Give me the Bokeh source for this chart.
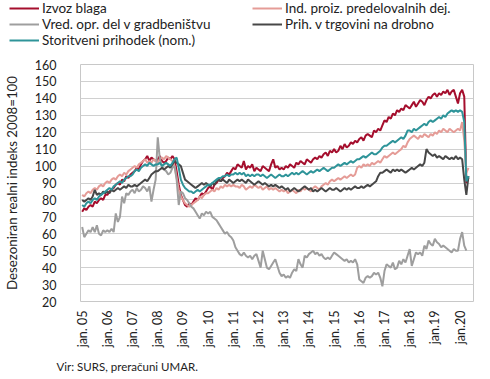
import math
from bokeh.plotting import figure
from bokeh.layouts import column
from bokeh.models import Range1d, FixedTicker, Legend, LegendItem, Label
from bokeh.embed import file_html
from bokeh.resources import INLINE

# ---------------- data (monthly, jan. 2005 - maj 2020) ----------------
izvoz_blaga = [
    73, 75, 74, 76, 77, 76, 79, 78, 80, 81, 80, 83,
    83, 85, 86, 87, 89, 90, 89, 92, 91, 94, 93, 95,
    96, 97, 99, 98, 101, 103, 104, 106, 103, 105, 104, 103,
    104, 106, 103, 102, 103, 105, 104, 106, 104, 97, 89, 83,
    80, 77, 76, 78, 77, 79, 81, 80, 82, 84, 83, 85,
    87, 88, 86, 89, 90, 92, 91, 93, 94, 96, 95, 97,
    99, 98, 101, 100, 99, 103, 98, 100, 99, 101, 97, 99,
    98, 97, 100, 99, 98, 97, 101, 104, 99, 100, 98, 99,
    98, 100, 99, 101, 100, 99, 102, 101, 103, 102, 101, 104,
    103, 102, 104, 105, 104, 106, 105, 107, 108, 106, 109, 108,
    110, 108, 109, 112, 110, 113, 111, 112, 114, 113, 115, 114,
    116, 117, 115, 118, 119, 118, 117, 121, 120, 122, 121, 124,
    127, 126, 129, 128, 131, 130, 133, 132, 134, 133, 136, 135,
    134, 136, 138, 135, 137, 139, 138, 136, 139, 141, 140, 142,
    143, 141, 143, 142, 144, 143, 145, 142, 144, 145, 141, 137,
    143, 145, 141, 90, 93,
]
ind_proiz = [
    83, 82, 84, 85, 84, 86, 87, 86, 88, 89, 88, 90,
    91, 90, 92, 93, 92, 94, 95, 94, 96, 95, 97, 98,
    99, 100, 99, 101, 102, 103, 104, 102, 103, 102, 104, 103,
    102, 104, 105, 104, 106, 105, 104, 103, 100, 93, 86, 82,
    80, 78, 77, 76, 77, 78, 79, 80, 82, 81, 83, 84,
    84, 85, 86, 85, 87, 86, 88, 87, 89, 88, 89, 88,
    89, 88, 88, 87, 89, 88, 86, 87, 88, 87, 89, 88,
    87, 88, 86, 87, 88, 86, 87, 86, 87, 86, 85, 86,
    85, 86, 84, 85, 86, 85, 84, 86, 85, 87, 86, 87,
    86, 85, 87, 88, 87, 86, 88, 89, 90, 89, 91, 92,
    91, 92, 93, 92, 93, 94, 93, 94, 95, 94, 95, 99,
    100, 99, 101, 100, 101, 100, 102, 101, 102, 103, 102, 104,
    106, 105, 106, 107, 108, 107, 108, 109, 110, 112, 111, 114,
    116, 117, 118, 117, 116, 118, 117, 119, 118, 117, 119, 118,
    120, 119, 121, 120, 122, 121, 120, 122, 121, 120, 121, 122,
    121, 126, 115, 96, 99,
]
vred_gradb = [
    64, 58, 60, 62, 61, 64, 61, 65, 60, 59, 62, 61,
    62, 61, 63, 61, 72, 67, 70, 82, 78, 84, 83, 85,
    86, 84, 87, 85, 86, 88, 87, 85, 88, 79, 86, 92,
    117, 104, 100, 98, 97, 95, 96, 99, 100, 92, 77, 85,
    84, 81, 80, 78, 76, 75, 73, 71, 69, 72, 71, 73,
    72, 73, 70, 69, 68, 66, 64, 62, 60, 61, 59, 58,
    56, 52, 50, 48, 47, 49, 47, 46, 47, 45, 47, 48,
    44, 40, 50, 45, 40, 39, 41, 43, 45, 41, 37, 35,
    36, 34, 35, 34, 37, 39, 38, 45, 42, 40, 47, 46,
    48, 49, 50, 48, 49, 47, 48, 46, 45, 46, 45, 47,
    49, 48, 47, 46, 45, 44, 45, 43, 44, 43, 45, 42,
    33, 32, 31, 34, 35, 34, 35, 37, 36, 37, 34, 29,
    38, 42, 41, 40, 43, 39, 40, 44, 42, 45, 43, 47,
    51, 41, 45, 49, 48, 49, 47, 53, 51, 56, 54, 53,
    57, 55, 54, 52, 53, 52, 51, 50, 49, 51, 50, 50,
    57, 61, 53, 50,
]
prih_trgovina = [
    80, 79, 80, 81, 80, 82, 86, 83, 84, 83, 85, 84,
    85, 84, 86, 85, 86, 87, 86, 87, 88, 87, 89, 88,
    88, 89, 88, 89, 90, 91, 92, 91, 93, 95, 96, 97,
    97, 98, 99, 98, 99, 100, 99, 101, 103, 102, 101, 100,
    96, 92, 91, 90, 89, 88, 87, 88, 89, 90, 89, 90,
    89, 88, 90, 89, 91, 92, 91, 92, 91, 90, 92, 91,
    90, 91, 92, 91, 92, 91, 90, 92, 91, 90, 89, 90,
    91, 90, 89, 90, 89, 88, 89, 88, 89, 88, 87, 88,
    87, 86, 87, 85, 86, 87, 86, 85, 86, 87, 88, 87,
    86, 87, 85, 86, 85, 86, 87, 86, 85, 86, 87, 86,
    86, 87, 86, 85, 86, 87, 86, 87, 86, 87, 88, 87,
    87, 88, 87, 88, 89, 88, 89, 90, 91, 94, 96, 96,
    97, 98, 97, 96, 98, 97, 98, 97, 98, 97, 96, 97,
    98, 99, 98, 99, 100, 101, 100, 102, 110, 108, 107, 106,
    107, 105, 106, 105, 104, 106, 105, 104, 105, 104, 106, 104,
    105, 104, 92, 83, 94,
]
storitveni = [
    77, 76, 78, 79, 78, 80, 81, 80, 82, 83, 84, 85,
    86, 87, 86, 88, 89, 90, 91, 90, 92, 93, 94, 94,
    95, 97, 98, 97, 99, 100, 101, 100, 102, 101, 100, 101,
    101, 102, 100, 101, 102, 101, 100, 102, 104, 105, 99, 92,
    89, 87, 86, 85, 85, 84, 85, 86, 85, 86, 87, 88,
    89, 89, 90, 91, 92, 93, 93, 94, 94, 95, 94, 95,
    95, 96, 95, 96, 95, 96, 94, 95, 94, 95, 94, 95,
    95, 94, 95, 94, 93, 94, 95, 94, 93, 94, 95, 94,
    94, 95, 94, 95, 96, 95, 96, 95, 96, 97, 96, 95,
    96, 97, 96, 97, 98, 97, 98, 99, 98, 97, 98, 99,
    99, 100, 101, 100, 101, 102, 101, 102, 103, 102, 103, 104,
    104, 105, 106, 105, 106, 107, 108, 107, 107, 108, 109, 111,
    112, 112, 113, 114, 115, 114, 115, 116, 117, 116, 118, 121,
    121, 120, 122, 121, 122, 123, 124, 125, 124, 126, 127, 126,
    127, 128, 129, 128, 130, 129, 131, 132, 133, 132, 133, 132,
    133, 132, 126, 91, 94,
]

tick_months = [0, 12, 24, 36, 48, 60, 72, 84, 96, 108, 120, 132, 144, 156, 168, 180]
tick_labels = ["jan. 05", "jan. 06", "jan. 07", "jan. 08", "jan. 09", "jan. 10",
               "jan. 11", "jan. 12", "jan. 13", "jan. 14", "jan. 15", "jan. 16",
               "jan. 17", "jan. 18", "jan.19", "jan.20"]
y_ticks = [20, 30, 40, 50, 60, 70, 80, 90, 100, 110, 120, 130, 140, 150, 160]

series = [
    ("Izvoz blaga", izvoz_blaga, "#A50E2D"),
    ("Ind. proiz. predelovalnih dej.", ind_proiz, "#E59C97"),
    ("Vred. opr. del v gradbeništvu", vred_gradb, "#9E9E9E"),
    ("Prih. v trgovini na drobno", prih_trgovina, "#474747"),
    ("Storitveni prihodek (nom.)", storitveni, "#2E9499"),
]
source_text = "Vir: SURS, preračuni UMAR."

FONT = "Lato"
TXT = "#222222"
W = 474


def strip(height):
    f = figure(width=W, height=height, output_backend="svg", toolbar_location=None,
               x_range=Range1d(0, 1), y_range=Range1d(0, 1),
               x_axis_type=None, y_axis_type=None, min_border=0)
    f.outline_line_color = None
    f.grid.visible = False
    f.background_fill_color = "white"
    f.border_fill_color = "white"
    if "frame_align" in f.properties():
        f.frame_align = False
    return f


# ---------------- legend strip ----------------
leg = strip(52)
legend_renderers = {}
for name, vals, col in series:
    legend_renderers[name] = leg.line(list(range(len(vals))), vals,
                                      line_color=col, line_width=2)


def make_legend(names, loc):
    lg = Legend(items=[LegendItem(label=n, renderers=[legend_renderers[n]]) for n in names],
                location=loc, orientation="vertical")
    lg.label_text_font = FONT
    lg.label_text_font_size = "13.5px"
    lg.label_text_color = TXT
    lg.glyph_width = 30
    lg.glyph_height = 16
    lg.label_height = 16
    lg.spacing = 0
    lg.padding = 0
    lg.margin = 0
    lg.label_standoff = 3
    lg.border_line_alpha = 0
    lg.background_fill_alpha = 0
    return lg


leg.add_layout(make_legend(["Izvoz blaga", "Vred. opr. del v gradbeništvu",
                            "Storitveni prihodek (nom.)"], (9, 4)), "center")
leg.add_layout(make_legend(["Ind. proiz. predelovalnih dej.",
                            "Prih. v trgovini na drobno"], (252, 20)), "center")

# ---------------- main chart ----------------
p = figure(width=W, height=300, output_backend="svg", toolbar_location=None,
           x_range=Range1d(-0.8, 186.4), y_range=Range1d(20, 160),
           min_border_left=64, min_border_right=1, min_border_top=12,
           min_border_bottom=51)
p.background_fill_color = "white"
p.border_fill_color = "white"
p.outline_line_color = "#C8C8C8"
p.outline_line_width = 1

p.xgrid.grid_line_color = None
p.ygrid.grid_line_color = "#D0D0D0"
p.ygrid.grid_line_width = 1.2

p.yaxis.ticker = FixedTicker(ticks=y_ticks)
p.xaxis.ticker = FixedTicker(ticks=tick_months)
p.xaxis.major_label_overrides = {m: l for m, l in zip(tick_months, tick_labels)}
p.xaxis.major_label_orientation = math.pi / 2

for ax in (p.xaxis[0], p.yaxis[0]):
    ax.axis_line_color = None
    ax.major_tick_line_color = None
    ax.minor_tick_line_color = None
    ax.major_label_text_font = FONT
    ax.major_label_text_font_size = "12.5px"
    ax.major_label_text_color = TXT

p.xaxis.major_label_standoff = 3
p.yaxis.major_label_standoff = 18
p.yaxis.axis_label = "Desezoniran realni indeks 2008=100"
p.yaxis.axis_label_text_font = FONT
p.yaxis.axis_label_text_font_size = "13.3px"
p.yaxis.axis_label_text_font_style = "normal"
p.yaxis.axis_label_text_color = TXT
p.yaxis.axis_label_standoff = 12

for name, vals, col in series:
    xs = list(range(len(vals)))
    p.line(xs, vals, line_color=col, line_width=2)

# ---------------- source strip ----------------
foot = strip(24)
foot.add_layout(Label(x=56, y=10, x_units="screen", y_units="screen",
                      text=source_text, text_font=FONT, text_font_size="11.5px",
                      text_color=TXT, text_baseline="middle"))

layout = column(leg, p, foot, spacing=0)
open("out.html", "w").write(file_html(layout, INLINE))
